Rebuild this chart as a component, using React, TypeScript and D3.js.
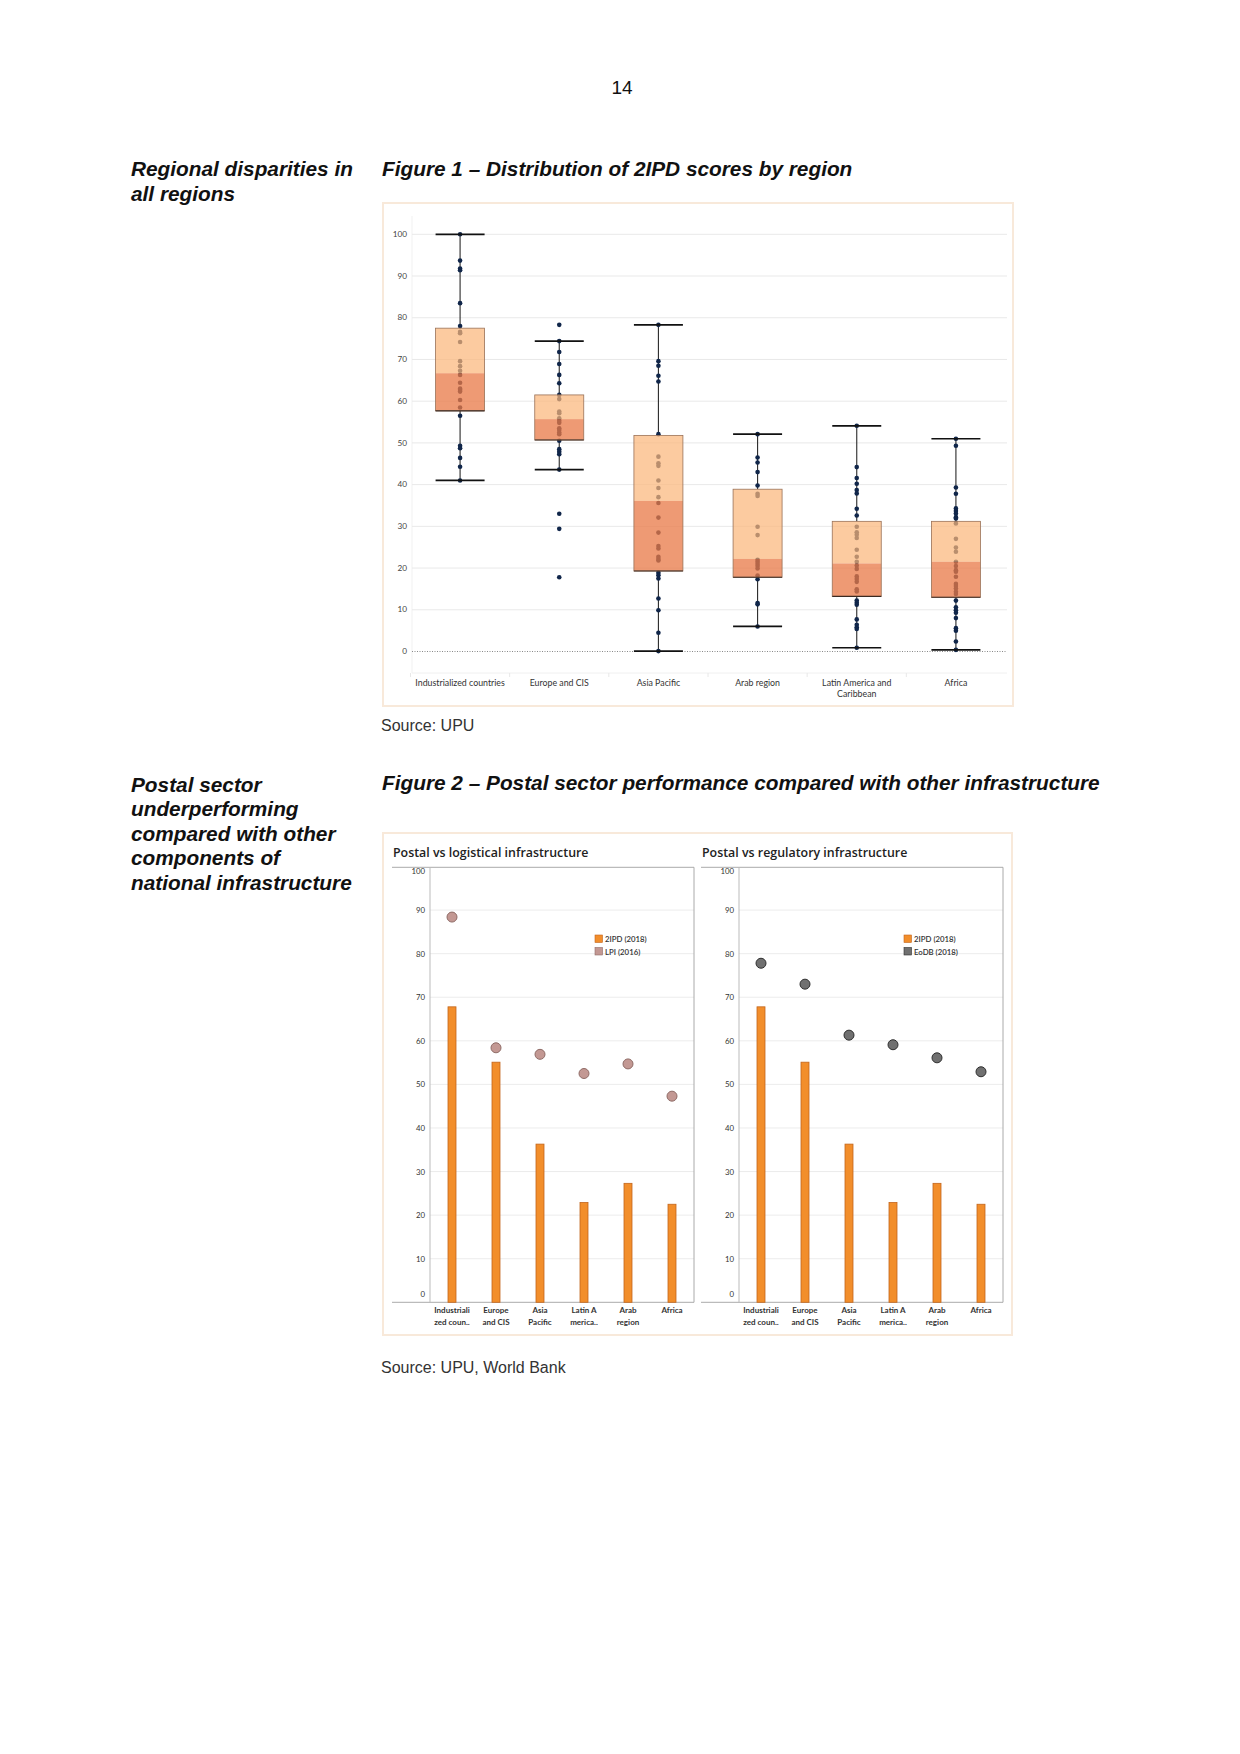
import React from "react";
import * as d3 from "d3";

// Figure 1 data: 2IPD scores by region
const regions = [
	"Industrialized countries",
	"Europe and CIS",
	"Asia Pacific",
	"Arab region",
	"Latin America and Caribbean",
	"Africa",
];
const regionLabelLines = [
	["Industrialized countries"],
	["Europe and CIS"],
	["Asia Pacific"],
	["Arab region"],
	["Latin America and", "Caribbean"],
	["Africa"],
];
const whiskerLow = [41.0, 43.6, 0.1, 6.0, 0.9, 0.4];
const quartile1 = [57.7, 50.7, 19.3, 17.8, 13.2, 13.0];
const medians = [66.7, 55.7, 36.1, 22.2, 21.1, 21.5];
const quartile3 = [77.5, 61.5, 51.8, 38.9, 31.2, 31.2];
const whiskerHigh = [100, 74.4, 78.3, 52.1, 54.1, 51.0];

const industrializedScores = [
	100, 93.7, 91.8, 91.4, 83.5, 78, 76.6, 76.3, 74.2, 69.6, 68.4, 67.3, 66.3,
	64.4, 63, 62.7, 62.3, 60.3, 58.5, 56.5, 49.3, 48.7, 46.4, 44.3, 41,
];
const europeScores = [
	78.3, 74.4, 71.8, 68.9, 66.3, 64.3, 61.5, 60.5, 57.5, 57.1, 55.9, 55.3, 54.8,
	53.5, 53.1, 52.5, 52.1, 50.5, 48.5, 47.9, 47.3, 43.6, 33.0, 29.4, 17.8,
];
const asiaScores = [
	78.3, 69.6, 68.5, 66.1, 64.7, 52.1, 46.7, 45.1, 44.5, 41.0, 39.2, 37.0, 35.6,
	32.1, 28.5, 25.3, 24.7, 22.7, 22.2, 21.8, 18.9, 18.3, 17.5, 12.7, 9.9, 4.5,
	0.1,
];
const arabScores = [
	52.1, 46.5, 45.3, 43.0, 39.8, 37.8, 37.3, 29.9, 27.9, 22.0, 21.5, 21.0, 20.5,
	19.9, 18.2, 17.3, 11.6, 11.3, 6.0,
];
const latinScores = [
	54.1, 44.2, 41.6, 40.2, 38.7, 37.9, 34.2, 32.6, 29.9, 28.6, 28.0, 27.2, 24.4,
	22.7, 21.5, 20.6, 19.8, 18.0, 17.4, 16.7, 14.9, 14.4, 12.2, 11.7, 11.2, 7.7,
	6.4, 5.8, 5.4, 0.9,
];
const africaScores = [
	51.0, 49.3, 39.3, 37.8, 34.3, 33.7, 33.1, 32.2, 31.9, 30.7, 27.0, 24.9, 23.9,
	21.5, 20.5, 19.5, 19.1, 17.9, 16.2, 15.7, 15.1, 14.3, 13.8, 12.2, 10.6, 9.9,
	9.3, 8.0, 5.6, 5.0, 2.4, 0.4,
];
const regionScores = [
	industrializedScores,
	europeScores,
	asiaScores,
	arabScores,
	latinScores,
	africaScores,
];
const fig1Ticks = [0, 10, 20, 30, 40, 50, 60, 70, 80, 90, 100];

// Figure 2 data
const shortRegionLines = [
	["Industriali", "zed coun.."],
	["Europe", "and CIS"],
	["Asia", "Pacific"],
	["Latin A", "merica.."],
	["Arab", "region"],
	["Africa"],
];
const shortRegions = shortRegionLines.map((l) => l.join(""));
const ipd2018 = [67.8, 55.1, 36.3, 22.9, 27.3, 22.5];
const lpi2016 = [88.4, 58.4, 56.9, 52.5, 54.7, 47.3];
const eodb2018 = [77.8, 73.0, 61.3, 59.1, 56.1, 52.9];
const fig2Ticks = [0, 10, 20, 30, 40, 50, 60, 70, 80, 90, 100];

const headingFont = "'Liberation Sans', Arial, sans-serif";
const chartFont = "Lato, 'Open Sans', sans-serif";

function BoxPlot() {
	const x = d3.scaleBand().domain(regions).range([410.5, 1005.5]);
	const y = d3.scaleLinear().domain([0, 100]).range([651.5, 234.3]);
	const boxW = 49;

	return (
		<g>
			<rect x={383} y={203} width={630} height={503} fill="#fff" stroke="#f8e9da" strokeWidth={2} />
			{/* faint axis frame */}
			<line x1={412} x2={412} y1={216} y2={673} stroke="#f1f1f1" />
			<line x1={412} x2={1007} y1={673} y2={673} stroke="#f0f0f0" />
			{regions.map((r) => (
				<line key={r} x1={x(r)!} x2={x(r)!} y1={673} y2={677} stroke="#e8e8e8" />
			))}
			{fig1Ticks.map((t) => (
				<g key={t}>
					{t > 0 && <line x1={412} x2={1007} y1={y(t)} y2={y(t)} stroke="#e9e9e9" />}
					<text x={407} y={y(t)} dy="0.33em" textAnchor="end" fontSize={8.2} fill="#444" fontFamily={chartFont}>
						{t}
					</text>
				</g>
			))}
			<line x1={412} x2={1007} y1={y(0)} y2={y(0)} stroke="#888" strokeDasharray="1,1.5" />

			{regions.map((r, i) => {
				const cx = x(r)! + x.bandwidth() / 2;
				return (
					<g key={r}>
						<line x1={cx} x2={cx} y1={y(whiskerHigh[i])} y2={y(quartile3[i])} stroke="#2a2a2a" strokeWidth={1.1} />
						<line x1={cx} x2={cx} y1={y(quartile1[i])} y2={y(whiskerLow[i])} stroke="#2a2a2a" strokeWidth={1.1} />
						{regionScores[i].map((v, j) => (
							<circle key={j} cx={cx} cy={y(v)} r={2.3} fill="#10264a" />
						))}
						<rect
							x={cx - boxW / 2}
							y={y(quartile3[i])}
							width={boxW}
							height={y(medians[i]) - y(quartile3[i])}
							fill="#fbb77b"
							fillOpacity={0.72}
						/>
						<rect
							x={cx - boxW / 2}
							y={y(medians[i])}
							width={boxW}
							height={y(quartile1[i]) - y(medians[i])}
							fill="#e97a48"
							fillOpacity={0.76}
						/>
						<rect
							x={cx - boxW / 2}
							y={y(quartile3[i])}
							width={boxW}
							height={y(quartile1[i]) - y(quartile3[i])}
							fill="none"
							stroke="#9a7258"
							strokeWidth={0.8}
						/>
						<line x1={cx - boxW / 2} x2={cx + boxW / 2} y1={y(quartile1[i])} y2={y(quartile1[i])} stroke="#3a2a22" strokeWidth={1.2} />
						<line x1={cx - boxW / 2} x2={cx + boxW / 2} y1={y(whiskerHigh[i])} y2={y(whiskerHigh[i])} stroke="#111" strokeWidth={1.7} />
						<line x1={cx - boxW / 2} x2={cx + boxW / 2} y1={y(whiskerLow[i])} y2={y(whiskerLow[i])} stroke="#111" strokeWidth={1.7} />
						{regionLabelLines[i].map((ln, k) => (
							<text key={k} x={cx} y={686 + k * 11} textAnchor="middle" fontSize={8.8} fill="#333" fontFamily={chartFont}>
								{ln}
							</text>
						))}
					</g>
				);
			})}
		</g>
	);
}

function Panel({ axisX, title, dots, dotFill, dotStroke, legendLabel }: {
	axisX: number;
	title: string;
	dots: number[];
	dotFill: string;
	dotStroke: string;
	legendLabel: string;
}) {
	const w = 264;
	const x = d3.scaleBand().domain(shortRegions).range([axisX, axisX + w]);
	const y = d3.scaleLinear().domain([0, 100]).range([1302.3, 866.5]);
	const barW = 8;
	const legX = axisX + 165;
	const legY = 935;

	return (
		<g>
			<text x={axisX - 37} y={857} fontSize={12.4} fontWeight={600} fill="#222" fontFamily="'Open Sans', sans-serif">
				{title}
			</text>
			{fig2Ticks.map((t) => {
				const off = t === 0 ? -5 : t === 100 ? 7 : 3;
				return (
					<g key={t}>
						{t > 0 && t < 100 && <line x1={axisX} x2={axisX + w} y1={y(t)} y2={y(t)} stroke="#ececec" />}
						<text x={axisX - 5} y={y(t) + off} textAnchor="end" fontSize={7.8} fill="#333" fontFamily={chartFont}>
							{t}
						</text>
					</g>
				);
			})}
			<line x1={axisX - 38} x2={axisX + w} y1={867.3} y2={867.3} stroke="#aaa" />
			<line x1={axisX - 38} x2={axisX + w} y1={y(0)} y2={y(0)} stroke="#aaa" />
			<line x1={axisX} x2={axisX} y1={867.3} y2={y(0)} stroke="#bbb" />
			<line x1={axisX + w} x2={axisX + w} y1={867.3} y2={y(0)} stroke="#aaa" />

			{shortRegions.map((r, i) => {
				const cx = x(r)! + x.bandwidth() / 2;
				return (
					<g key={r}>
						<rect
							x={cx - barW / 2}
							y={y(ipd2018[i])}
							width={barW}
							height={y(0) - y(ipd2018[i])}
							fill="#f28e2b"
							stroke="#c2651c"
							strokeWidth={0.8}
						/>
						<circle cx={cx} cy={y(dots[i])} r={5} fill={dotFill} stroke={dotStroke} strokeWidth={1} />
						{shortRegionLines[i].map((ln, k) => (
							<text key={k} x={cx} y={1313 + k * 11.5} textAnchor="middle" fontSize={8} fontWeight={700} fill="#333" fontFamily={chartFont}>
								{ln}
							</text>
						))}
					</g>
				);
			})}

			<rect x={legX} y={legY} width={7.5} height={7.5} fill="#f28e2b" stroke="#c2651c" strokeWidth={0.6} />
			<text x={legX + 10} y={legY + 7} fontSize={7.8} fontWeight={600} fill="#333" fontFamily={chartFont}>
				2IPD (2018)
			</text>
			<rect x={legX} y={legY + 12.5} width={7.5} height={7.5} fill={dotFill} stroke={dotStroke} strokeWidth={0.6} />
			<text x={legX + 10} y={legY + 19.5} fontSize={7.8} fontWeight={600} fill="#333" fontFamily={chartFont}>
				{legendLabel}
			</text>
		</g>
	);
}

export default function App() {
	return (
		<svg width={1240} height={1754} style={{ position: "absolute", left: 0, top: 0, background: "#fff" }}>
			<text x={622} y={94} textAnchor="middle" fontSize={19} fontFamily={headingFont} fill="#111">
				14
			</text>

			<g fontFamily={headingFont} fontWeight="bold" fontStyle="italic" fontSize={20.8} fill="#111">
				<text x={131} y={176}>Regional disparities in</text>
				<text x={131} y={200.5}>all regions</text>
				<text x={382} y={176}>Figure 1 – Distribution of 2IPD scores by region</text>

				<text x={131} y={791.5}>Postal sector</text>
				<text x={131} y={816}>underperforming</text>
				<text x={131} y={840.5}>compared with other</text>
				<text x={131} y={865}>components of</text>
				<text x={131} y={889.5}>national infrastructure</text>
				<text x={382} y={790}>Figure 2 – Postal sector performance compared with other infrastructure</text>
			</g>

			<BoxPlot />

			<text x={381} y={731} fontSize={16} fontFamily={headingFont} fill="#333">
				Source: UPU
			</text>

			<rect x={383} y={833} width={629} height={502} fill="#fff" stroke="#f8e9da" strokeWidth={2} />
			<Panel
				axisX={430}
				title="Postal vs logistical infrastructure"
				dots={lpi2016}
				dotFill="#c39893"
				dotStroke="#8f6b66"
				legendLabel="LPI (2016)"
			/>
			<Panel
				axisX={739}
				title="Postal vs regulatory infrastructure"
				dots={eodb2018}
				dotFill="#707070"
				dotStroke="#2e2e2e"
				legendLabel="EoDB (2018)"
			/>

			<text x={381} y={1373} fontSize={16} fontFamily={headingFont} fill="#333">
				Source: UPU, World Bank
			</text>
		</svg>
	);
}
